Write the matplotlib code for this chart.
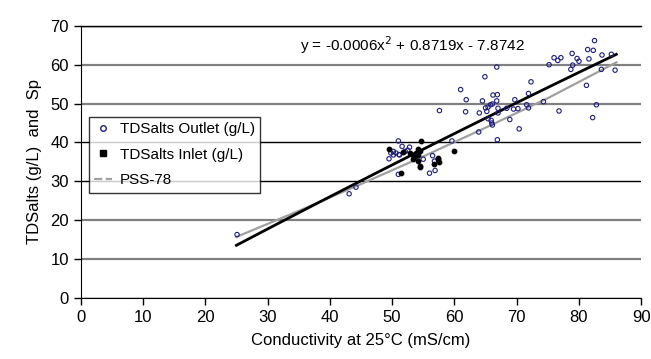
import matplotlib.pyplot as plt
import numpy as np
from matplotlib.lines import Line2D

plt.rcParams['font.family'] = ['Liberation Sans', 'DejaVu Sans']

# outlet samples (conductivity mS/cm, TDSalts g/L)
out_cond = [82.5, 76.0, 76.6, 77.1, 75.2, 78.9, 79.7, 80.0, 79.0, 78.7,
            81.4, 82.3, 81.6, 83.7, 85.2, 83.6, 85.8, 81.2, 82.8, 82.2,
            76.8, 74.3, 72.3, 71.9, 71.6, 71.9, 69.7, 70.2, 69.5, 70.4,
            68.9, 68.4, 66.8, 64.9, 61.0, 61.9, 61.8, 64.0, 64.5, 66.2,
            66.9, 66.8, 65.0, 65.4, 65.8, 66.1, 65.2, 67.0, 67.0, 65.4,
            65.9, 66.0, 66.1, 63.9, 66.9, 59.6, 57.6, 51.0, 51.6, 52.8,
            50.2, 50.6, 49.8, 51.2, 50.2, 49.5, 56.5, 55.0, 56.8, 56.0,
            56.9, 51.0, 52.5, 52.1, 51.1, 44.2, 43.1, 25.1]
out_tds = [66.2, 61.8, 61.1, 61.8, 60.0, 62.9, 61.6, 60.9, 59.9, 58.8,
           63.9, 63.7, 61.5, 62.5, 62.7, 58.8, 58.6, 54.7, 49.7, 46.4,
           48.1, 50.5, 55.6, 52.6, 49.7, 48.9, 51.0, 48.7, 48.6, 43.5,
           45.9, 48.8, 59.4, 56.9, 53.6, 51.0, 47.9, 47.6, 50.7, 52.2,
           52.3, 50.7, 48.9, 49.1, 49.7, 49.9, 48.0, 48.8, 47.6, 46.1,
           45.7, 45.0, 44.5, 42.7, 40.7, 40.4, 48.2, 40.4, 39.0, 38.8,
           37.7, 37.3, 37.3, 36.8, 36.8, 35.8, 36.6, 35.7, 35.2, 32.1,
           32.8, 31.8, 38.0, 37.7, 36.9, 28.5, 26.8, 16.3]

# inlet samples
in_cond = [49.5, 51.7, 54.7, 54.1, 54.4, 53.9, 53.4, 53.7, 54.2, 53.3,
           54.1, 54.4, 57.3, 57.5, 56.8, 51.5, 52.9, 60.0, 57.4, 54.5]
in_tds = [38.4, 37.6, 40.4, 38.2, 37.7, 37.3, 36.9, 36.5, 36.9, 35.7,
          35.2, 34.0, 35.7, 34.9, 34.5, 32.1, 37.3, 37.8, 36.1, 33.8]

# PSS-78 practical salinity curve
pss_cond = [25, 35, 45, 55, 65, 75, 86]
pss_sp = [15.7, 22.4, 29.3, 36.4, 43.8, 51.4, 60.6]

# quadratic fit coefficients
fit = [-0.0006, 0.8719, -7.8742]
fit_range = [25, 86]

fig = plt.figure(figsize=(6.51, 3.59), dpi=100)
ax = fig.add_axes([0.124, 0.170, 0.861, 0.758])

xf = np.linspace(fit_range[0], fit_range[1], 100)
ax.plot(pss_cond, pss_sp, color='#a0a0a0', lw=1.6, zorder=3)
ax.plot(xf, np.polyval(fit, xf), color='black', lw=2, zorder=4)
ax.scatter(out_cond, out_tds, s=10, facecolors='none', edgecolors='#1f1f7a',
           linewidths=0.8, zorder=5)
ax.scatter(in_cond, in_tds, s=10, marker='o', color='black', zorder=6)

ax.set_xlim(0, 90)
ax.set_ylim(0, 70)
ax.set_xticks(np.arange(0, 91, 10))
ax.set_yticks(np.arange(0, 71, 10))
ax.tick_params(labelsize=12, direction='out', length=5, width=1)
ax.spines['right'].set_visible(False)
ax.spines['top'].set_linewidth(1.0)
ax.grid(axis='y', zorder=0)
grid_cols = ['black', '#808080', '#808080', 'black', 'black', '#808080', '#808080', 'black']
for gl, c in zip(ax.get_ygridlines(), grid_cols):
    gl.set_color(c)
    gl.set_linewidth(1.0 if c == 'black' else 1.6)

ax.set_xlabel('Conductivity at 25°C (mS/cm)', fontsize=12, labelpad=6)
ax.set_ylabel('TDSalts (g/L)  and  Sp', fontsize=12, labelpad=6)

ax.text(35.2, 65, 'y = -0.0006x$^2$ + 0.8719x - 7.8742', fontsize=11,
        va='center')

handles = [
    Line2D([], [], ls='none', marker='o', ms=4, mfc='none', mec='#1f1f7a'),
    Line2D([], [], ls='none', marker='s', ms=4, color='black'),
    Line2D([], [], color='#a0a0a0', ls='--', lw=1.6),
]
labels = ['TDSalts Outlet (g/L)', 'TDSalts Inlet (g/L)', 'PSS-78']
leg = ax.legend(handles, labels, loc='upper left', bbox_to_anchor=(0.014, 0.665),
                fontsize=11, frameon=True, fancybox=False, edgecolor='black',
                handlelength=1.2, handletextpad=0.5, borderpad=0.35,
                labelspacing=0.75, borderaxespad=0)
leg.get_frame().set_linewidth(1)

fig.savefig('out.png', dpi=100)
